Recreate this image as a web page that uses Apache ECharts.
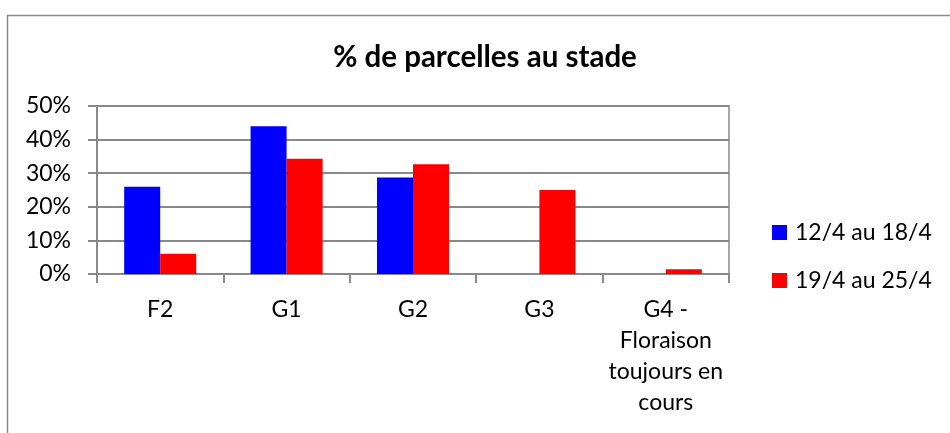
<!DOCTYPE html>
<html><head><meta charset="utf-8">
<script src="https://cdn.jsdelivr.net/npm/echarts@6/dist/echarts.min.js"></script>
<style>html,body{margin:0;padding:0;background:#fff}#c{width:950px;height:433px}</style>
</head><body><div id="c"></div>
<script>
const categories = ["F2", "G1", "G2", "G3", "G4 -\nFloraison\ntoujours en\ncours"];
const seriesNames = ["12/4 au 18/4", "19/4 au 25/4"];
const week1 = [26, 44, 28.7, 0, 0];
const week2 = [6, 34.3, 32.7, 25, 1.4];
const yTicks = [0, 10, 20, 30, 40, 50];
const titleText = "% de parcelles au stade";

const FONT = "Lato";
const GRAY = "#898989";
const chart = echarts.init(document.getElementById('c'), null, {renderer: 'canvas'});
chart.setOption({
  animation: false,
  textStyle: {fontFamily: FONT},
  graphic: [{
    type: 'rect', left: 5, top: 13, silent: true,
    shape: {x: 0, y: 0, width: 1000, height: 500},
    style: {fill: 'none', stroke: GRAY, lineWidth: 1.5}
  }],
  title: {
    text: titleText, left: 480, top: 37, textAlign: 'center',
    textStyle: {fontFamily: FONT, fontWeight: 'bold', fontSize: 29.5, color: '#000'}
  },
  legend: {
    orient: 'vertical', left: 767, top: 216,
    itemWidth: 15, itemHeight: 15, itemGap: 25,
    icon: 'rect',
    textStyle: {fontFamily: FONT, fontSize: 23, color: '#000', padding: [0,0,0,3]},
    data: seriesNames
  },
  grid: {left: 97, right: 221, top: 106, bottom: 159, show: true, borderColor: GRAY, borderWidth: 1.5, backgroundColor: 'transparent'},
  xAxis: {
    type: 'category', data: categories,
    axisLine: {lineStyle: {color: GRAY, width: 2}},
    axisTick: {show: true, length: 9, lineStyle: {color: GRAY, width: 2}},
    axisLabel: {color: '#000', fontSize: 23, lineHeight: 31, margin: 20, interval: 0, fontFamily: FONT}
  },
  yAxis: {
    type: 'value', min: 0, max: 50, interval: 10,
    axisLine: {show: true, lineStyle: {color: GRAY, width: 2}},
    axisTick: {show: true, length: 9, lineStyle: {color: GRAY, width: 2}},
    splitLine: {lineStyle: {color: GRAY, width: 2}},
    axisLabel: {color: '#000', fontSize: 23, margin: 26, fontFamily: FONT,
      formatter: v => yTicks.includes(v) ? v + '%' : ''}
  },
  series: [
    {name: seriesNames[0], type: 'bar', data: week1, itemStyle: {color: '#0000FF'}, barGap: '0%', barCategoryGap: '43%'},
    {name: seriesNames[1], type: 'bar', data: week2, itemStyle: {color: '#FF0000'}, barGap: '0%', barCategoryGap: '43%'}
  ]
});
</script></body></html>
